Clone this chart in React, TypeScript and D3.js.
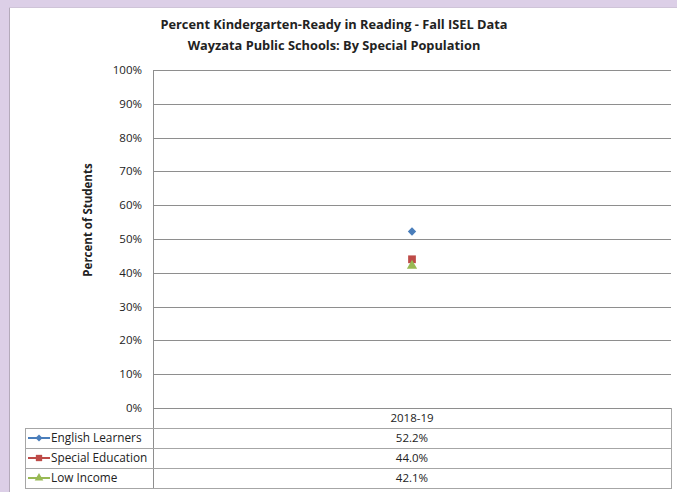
import React from 'react';
import * as d3 from 'd3';

const categories = ['2018-19'];
const seriesNames = ['English Learners', 'Special Education', 'Low Income'];
const englishLearners = [52.2];
const specialEducation = [44.0];
const lowIncome = [42.1];
const yTicks = [0, 10, 20, 30, 40, 50, 60, 70, 80, 90, 100];

const seriesValues = [englishLearners, specialEducation, lowIncome];
const seriesColors = ['#4a7ebb', '#be4b48', '#98b954'];
const seriesShapes = [d3.symbolDiamond2, d3.symbolSquare, d3.symbolTriangle];

const W = 677;
const H = 492;
const plot = { left: 153, right: 671, top: 70, bottom: 408 };
const rowH = 20;
const legendLeft = 25;
const font = '"Open Sans", "Liberation Sans", sans-serif';

export default function App() {
  const x = d3.scaleBand().domain(categories).range([plot.left, plot.right]);
  const y = d3.scaleLinear().domain([0, 100]).range([plot.bottom, plot.top]);
  const sym = (i: number, size: number) => d3.symbol().type(seriesShapes[i]).size(size)() as string;
  const tableTop = plot.bottom;

  return (
    <svg width={W} height={H} style={{ position: 'fixed', left: 0, top: 0 }} fontFamily={font}>
      <rect x={0} y={0} width={W} height={H} fill="#dccfe7" />
      <rect x={9} y={7} width={W - 9} height={H - 7} fill="#ffffff" />
      <line x1={9.5} x2={9.5} y1={7} y2={H} stroke="#b4aabb" />
      <line x1={9} x2={W} y1={7.5} y2={7.5} stroke="#cfc4d8" />

      <text x={334} y={29} textAnchor="middle" fontSize={12.8} fontWeight="bold" fill="#222">
        Percent Kindergarten-Ready in Reading - Fall ISEL Data
      </text>
      <text x={334} y={50} textAnchor="middle" fontSize={12.8} fontWeight="bold" fill="#222">
        Wayzata Public Schools: By Special Population
      </text>

      <text
        transform={`translate(92, 220) rotate(-90)`}
        textAnchor="middle"
        fontSize={11.5}
        fontWeight="bold"
        fill="#222"
      >
        Percent of Students
      </text>

      {yTicks.map(t => (
        <g key={t}>
          <line x1={plot.left} x2={plot.right} y1={Math.round(y(t)) + 0.5} y2={Math.round(y(t)) + 0.5} stroke="#8e8e8e" />
          <text x={142} y={y(t) + 4} textAnchor="end" fontSize={11.5} fill="#222">
            {t}%
          </text>
        </g>
      ))}
      <line x1={plot.left + 0.5} x2={plot.left + 0.5} y1={plot.top} y2={tableTop + rowH * 4} stroke="#8e8e8e" />

      {seriesValues.map((vals, i) =>
        vals.map((v, j) => (
          <path
            key={`${i}-${j}`}
            d={sym(i, i === 1 ? 60 : 45)}
            transform={`translate(${(x(categories[j]) ?? 0) + x.bandwidth() / 2}, ${y(v)})`}
            fill={seriesColors[i]}
          />
        ))
      )}

      {/* data table */}
      <line x1={plot.right + 0.5} x2={plot.right + 0.5} y1={tableTop} y2={tableTop + rowH * 4} stroke="#a6a6a6" />
      <line x1={legendLeft + 0.5} x2={legendLeft + 0.5} y1={tableTop + rowH} y2={tableTop + rowH * 4} stroke="#a6a6a6" />
      {[1, 2, 3, 4].map(r => (
        <line
          key={r}
          x1={legendLeft}
          x2={plot.right + 1}
          y1={tableTop + rowH * r + 0.5}
          y2={tableTop + rowH * r + 0.5}
          stroke="#a6a6a6"
        />
      ))}
      {categories.map(c => (
        <text key={c} x={(x(c) ?? 0) + x.bandwidth() / 2} y={tableTop + 14} textAnchor="middle" fontSize={11.5} fill="#222">
          {c}
        </text>
      ))}
      {seriesNames.map((name, i) => {
        const cy = tableTop + rowH * (i + 1) + rowH / 2;
        return (
          <g key={name}>
            <line x1={28} x2={50} y1={cy} y2={cy} stroke={seriesColors[i]} strokeWidth={2} />
            <path d={sym(i, i === 1 ? 40 : 32)} transform={`translate(39, ${cy})`} fill={seriesColors[i]} />
            <text x={51} y={cy + 4} fontSize={11.8} fill="#222">
              {name}
            </text>
            {categories.map((c, j) => (
              <text key={c} x={(x(c) ?? 0) + x.bandwidth() / 2} y={cy + 4} textAnchor="middle" fontSize={11.5} fill="#222">
                {seriesValues[i][j].toFixed(1)}%
              </text>
            ))}
          </g>
        );
      })}
    </svg>
  );
}
